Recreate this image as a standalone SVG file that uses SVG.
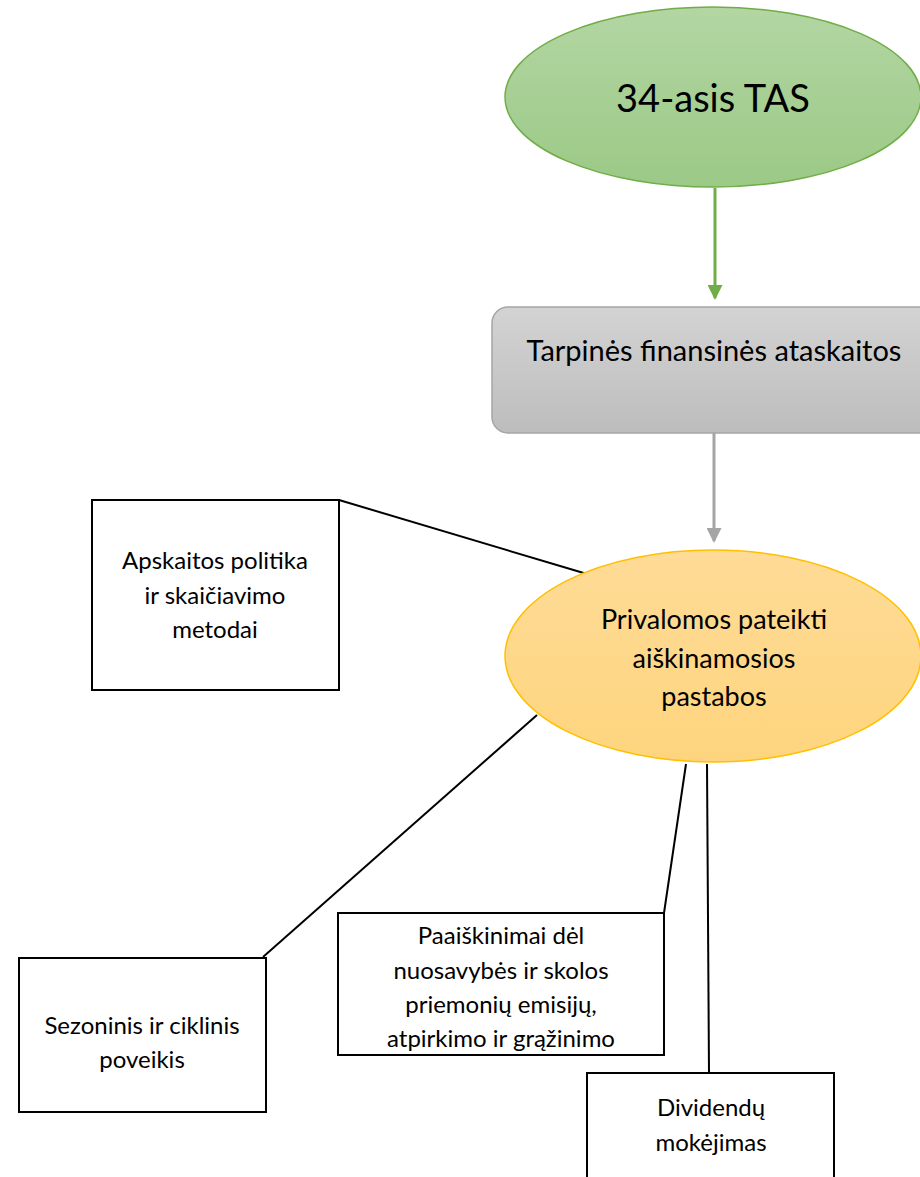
<svg xmlns="http://www.w3.org/2000/svg" width="920" height="1177" viewBox="0 0 920 1177">
<defs>
<linearGradient id="gGreen" x1="0" y1="0" x2="0" y2="1"><stop offset="0" stop-color="#b3d6a3"/><stop offset="1" stop-color="#9bc986"/></linearGradient>
<linearGradient id="gGray" x1="0" y1="0" x2="0" y2="1"><stop offset="0" stop-color="#d3d3d3"/><stop offset="1" stop-color="#bdbdbd"/></linearGradient>
<linearGradient id="gOrange" x1="0" y1="0" x2="0" y2="1"><stop offset="0" stop-color="#fedb97"/><stop offset="1" stop-color="#fed57e"/></linearGradient>
<marker id="arrG" markerWidth="15" markerHeight="15" refX="13" refY="7.5" orient="auto" markerUnits="userSpaceOnUse" viewBox="0 0 15 15"><path d="M0,0 L15,7.5 L0,15 z" fill="#70ad47"/></marker>
<marker id="arrGr" markerWidth="15" markerHeight="15" refX="13" refY="7.5" orient="auto" markerUnits="userSpaceOnUse" viewBox="0 0 15 15"><path d="M0,0 L15,7.5 L0,15 z" fill="#a5a5a5"/></marker>
<style>
text{font-family:Lato,"Open Sans","Liberation Sans",sans-serif;fill:#000;text-anchor:middle}
.box{fill:#fff;stroke:#000;stroke-width:2}
.ln{stroke:#000;stroke-width:2;fill:none}
.t20{font-size:24px}
.t22{font-size:27px}
</style>
</defs>
<g id="connectors">
<path d="M715,188 V298" stroke="#70ad47" stroke-width="3" fill="none" marker-end="url(#arrG)"/>
<path d="M714,433 V541" stroke="#a5a5a5" stroke-width="3" fill="none" marker-end="url(#arrGr)"/>
<path class="ln" d="M339,500 L587,574"/>
<path class="ln" d="M537,715 L263,957"/>
<path class="ln" d="M686,764 L664,913"/>
<path class="ln" d="M707,764 L709,1073"/>
</g>
<g id="n-tas">
<ellipse cx="713" cy="97" rx="208" ry="90" fill="url(#gGreen)" stroke="#70ad47" stroke-width="1.5"/>
<text x="713" y="112" style="font-size:38px">34-asis TAS</text>
</g>
<g id="n-tarpines">
<rect x="492" y="307" width="448" height="126" rx="16" fill="url(#gGray)" stroke="#a5a5a5" stroke-width="1.5"/>
<text x="714" y="361" style="font-size:29px">Tarpinės finansinės ataskaitos</text>
</g>
<g id="n-pastabos">
<ellipse cx="713" cy="656" rx="208" ry="106" fill="url(#gOrange)" stroke="#ffc000" stroke-width="1.5"/>
<text class="t22" x="714" y="629">Privalomos pateikti</text>
<text class="t22" x="714" y="668">aiškinamosios</text>
<text class="t22" x="714" y="706">pastabos</text>
</g>
<g id="n-apskaitos">
<rect class="box" x="92" y="500" width="247" height="190"/>
<text class="t20" x="215" y="569">Apskaitos politika</text>
<text class="t20" x="215" y="604">ir skaičiavimo</text>
<text class="t20" x="215" y="638">metodai</text>
</g>
<g id="n-sezoninis">
<rect class="box" x="19" y="958" width="247" height="154"/>
<text class="t20" x="142" y="1034">Sezoninis ir ciklinis</text>
<text class="t20" x="142" y="1068">poveikis</text>
</g>
<g id="n-paaiskinimai">
<rect class="box" x="338" y="913" width="326" height="142"/>
<text class="t20" x="501" y="944">Paaiškinimai dėl</text>
<text class="t20" x="501" y="979">nuosavybės ir skolos</text>
<text class="t20" x="501" y="1013">priemonių emisijų,</text>
<text class="t20" x="501" y="1047">atpirkimo ir grąžinimo</text>
</g>
<g id="n-dividendu">
<rect class="box" x="587" y="1073" width="247" height="130"/>
<text class="t20" x="711" y="1116">Dividendų</text>
<text class="t20" x="711" y="1151">mokėjimas</text>
</g>
</svg>
